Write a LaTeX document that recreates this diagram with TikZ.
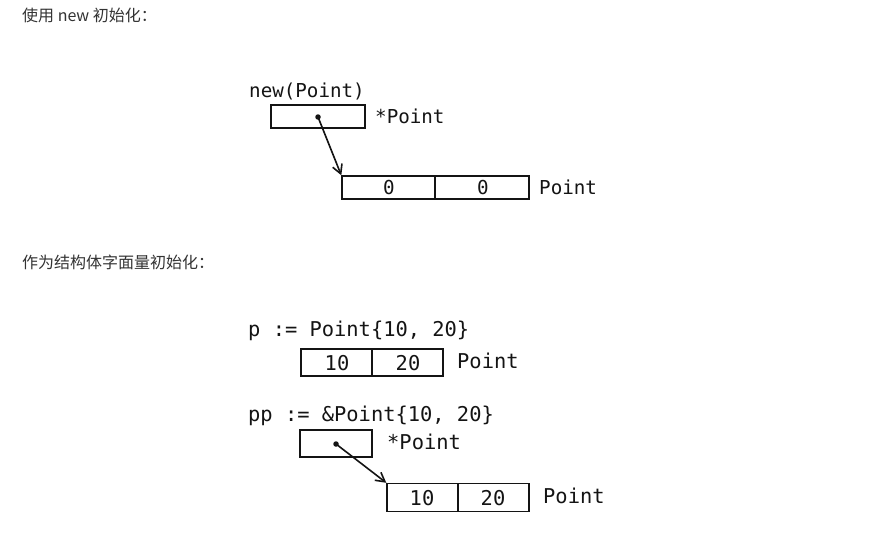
\documentclass[tikz,border=0pt]{standalone}
\usepackage{fontspec}
\setmonofont{DejaVu Sans Mono}
\newfontfamily\cjk{Noto Sans CJK SC}
\usetikzlibrary{arrows.meta}
\definecolor{cap}{HTML}{333333}
\definecolor{ink}{HTML}{141414}
\begin{document}
\begin{tikzpicture}[x=1pt,y=-1pt,
  cell/.style={draw=ink, line width=1.4pt, inner sep=0pt},
  heading/.style={anchor=base west, inner sep=0pt, text=cap, font=\cjk\fontsize{16}{16}\selectfont},
  monoA/.style={inner sep=0pt, text=ink, font=\fontsize{19.2}{19.2}\selectfont\ttfamily},
  monoB/.style={inner sep=0pt, text=ink, font=\fontsize{20.4}{20.4}\selectfont\ttfamily},
  dotnode/.style={circle, fill=ink, inner sep=0pt, minimum size=5.5pt},
  ptr/.style={draw=ink, line width=1.6pt, -{Straight Barb[length=9pt,width=10pt]}}
]
\useasboundingbox (0,0) rectangle (891,535);
\fill[white] (0,0) rectangle (891,535);

% headings
\node[heading] (h1) at (22,22) {使用 new 初始化：};
\node[heading] (h2) at (22,268) {作为结构体字面量初始化：};

% ---- new(Point)
\node[monoA, anchor=base west] (t1) at (249,97) {new(Point)};
\node[cell, minimum width=94pt, minimum height=23pt] (b1) at (318,116.5) {};
\node[monoA, anchor=base west] (t1p) at (375,123) {*Point};
\node[cell, minimum width=93pt, minimum height=23pt] (b2l) at (388.5,187.5) {};
\node[cell, minimum width=94pt, minimum height=23pt] (b2r) at (482,187.5) {};
\node[monoA, anchor=base] (z1) at (389,194) {0};
\node[monoA, anchor=base] (z2) at (483,194) {0};
\node[monoA, anchor=base west] (t2p) at (539,194) {Point};
\node[dotnode] (d1) at (318,117) {};
\draw[ptr] (d1.center) -- (b2l.north west);

% ---- p := Point{10, 20}
\node[monoB, anchor=base west] (t3) at (248,336) {p := Point\{10, 20\}};
\node[cell, minimum width=71pt, minimum height=27pt] (b3l) at (336.5,362.5) {};
\node[cell, minimum width=71pt, minimum height=27pt] (b3r) at (407.5,362.5) {};
\node[monoB, anchor=base] (v31) at (337,370) {10};
\node[monoB, anchor=base] (v32) at (408,370) {20};
\node[monoB, anchor=base west] (t3p) at (457,368) {Point};

% ---- pp := &Point{10, 20}
\node[monoB, anchor=base west] (t4) at (248,421) {pp := \&Point\{10, 20\}};
\node[cell, minimum width=72pt, minimum height=27pt] (b4) at (336,443.5) {};
\node[monoB, anchor=base west] (t4p) at (387,449) {*Point};
\node[cell, minimum width=71pt, minimum height=28pt] (b5l) at (422.5,497.5) {};
\node[cell, minimum width=71pt, minimum height=28pt] (b5r) at (493.5,497.5) {};
\node[monoB, anchor=base] (v51) at (422,505) {10};
\node[monoB, anchor=base] (v52) at (493,505) {20};
\node[monoB, anchor=base west] (t5p) at (543,503) {Point};
\node[dotnode] (d2) at (336,444) {};
\draw[ptr] (d2.center) -- (b5l.north west);
\end{tikzpicture}
\end{document}
